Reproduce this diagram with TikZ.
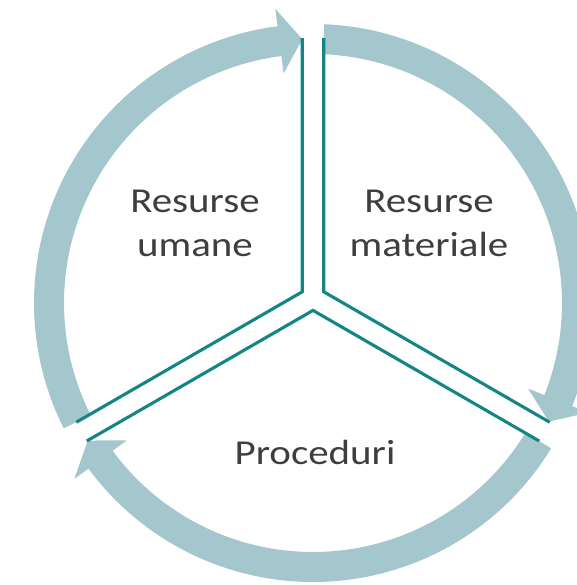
\documentclass[tikz,border=0pt]{standalone}
\usepackage{fontspec}
\setmainfont{Carlito}
\usetikzlibrary{calc}
\definecolor{ringblue}{RGB}{164,199,205}
\definecolor{tealline}{RGB}{20,133,133}
\definecolor{textgray}{RGB}{62,62,62}
\tikzset{
  ringarrow/.style={fill=ringblue, draw=none},
  gapline/.style={draw=tealline, line width=3.1pt, line join=miter},
  label/.style={anchor=base, inner sep=0pt, text=textgray, font=\fontsize{35}{42}\selectfont}
}
\newcommand{\wide}[1]{\scalebox{1.17}[1]{#1}}
\begin{document}
\begin{tikzpicture}[x=1pt,y=1pt]
\useasboundingbox (-313,-282) rectangle (263,303);
% circular arrows: start angle, head base angle, tip angle
\def\R{264}\def\h{15}\def\H{32.5}
\foreach \a/\b/\t in {206.7/97.3/92.3, 87.7/-21.7/-26.7, -31.4/-143.6/-148.6}{
  \path[ringarrow] (\a:\R+\h) arc[start angle=\a, end angle=\b, radius=\R+\h]
    -- (\b:\R+\H) -- (\t:\R) -- (\b:\R-\H) -- (\b:\R-\h)
    arc[start angle=\b, end angle=\a, radius=\R-\h] -- cycle;
}
% gap lines (sector edges)
\coordinate (yc) at (0,5);
\coordinate (cL) at ($(yc)+(150:12.41)$);
\coordinate (cR) at ($(yc)+(30:12.41)$);
\coordinate (cB) at ($(yc)+(270:12.41)$);
\coordinate (eLtop) at (-10.75,264.8);
\coordinate (eRtop) at (10.75,264.8);
\coordinate (eLlow) at ($(cL)+(210:260.9)$);
\coordinate (eRlow) at ($(cR)+(330:260.9)$);
\coordinate (eBl) at ($(cB)+(210:261.2)$);
\coordinate (eBr) at ($(cB)+(330:261.2)$);
\draw[gapline] (eLtop) -- (cL) -- (eLlow);
\draw[gapline] (eRtop) -- (cR) -- (eRlow);
\draw[gapline] (eBl) -- (cB) -- (eBr);
% labels
\node[label] (um1) at (-118,90) {\wide{Resurse}};
\node[label] (um2) at (-118,46) {\wide{umane}};
\node[label] (ma1) at (116,90) {\wide{Resurse}};
\node[label] (ma2) at (116,46) {\wide{materiale}};
\node[label] (pr) at (2,-161) {\wide{Proceduri}};
\end{tikzpicture}
\end{document}
